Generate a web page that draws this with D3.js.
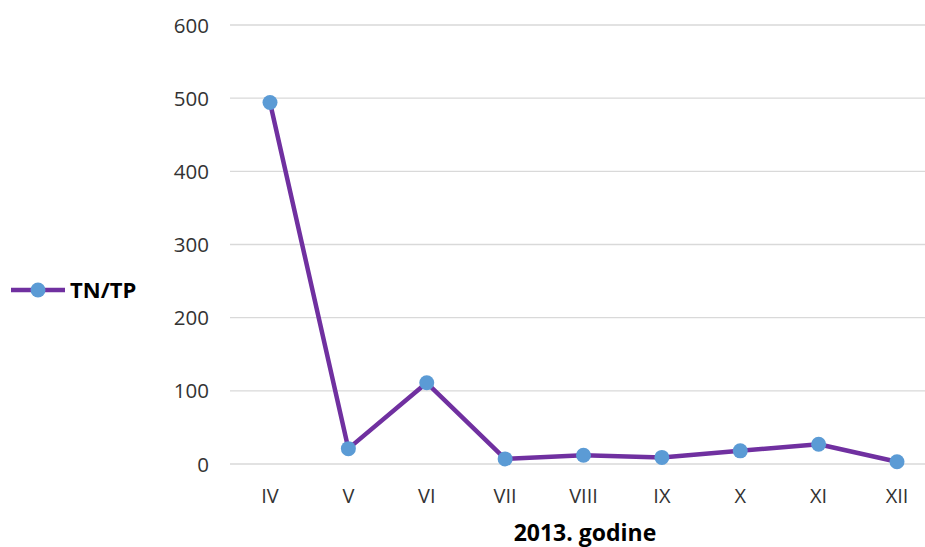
<!DOCTYPE html>
<html>
<head>
<meta charset="utf-8">
<script src="https://cdn.jsdelivr.net/npm/d3@7"></script>
<style>
  body { margin: 0; background: #fff; }
  svg { display: block; font-family: "Open Sans", "Liberation Sans", sans-serif; }
</style>
</head>
<body>
<svg id="chart" width="925" height="547"></svg>
<script>
// podaci
let mjeseci = ["IV", "V", "VI", "VII", "VIII", "IX", "X", "XI", "XII"];
let tntp = [494, 21, 111, 7, 12, 9, 18, 27, 3];
let yTicks = [0, 100, 200, 300, 400, 500, 600];

let svg = d3.select("#chart");

let x = d3.scalePoint()
    .domain(mjeseci)
    .range([270, 897]);

let y = d3.scaleLinear()
    .domain([0, 600])
    .range([464, 25]);

// mreza
svg.append("g")
    .selectAll("line")
    .data(yTicks)
    .enter()
    .append("line")
    .attr("x1", 230)
    .attr("x2", 925)
    .attr("y1", d => y(d))
    .attr("y2", d => y(d))
    .attr("stroke", "#d9d9d9")
    .attr("stroke-width", 1.3);

// y oznake
svg.append("g")
    .selectAll("text")
    .data(yTicks)
    .enter()
    .append("text")
    .attr("x", 209)
    .attr("y", d => y(d) + 7.5)
    .attr("text-anchor", "end")
    .attr("font-size", 20.5)
    .attr("fill", "#333")
    .text(d => d);

// x oznake
svg.append("g")
    .selectAll("text")
    .data(mjeseci)
    .enter()
    .append("text")
    .attr("x", d => x(d))
    .attr("y", 503)
    .attr("text-anchor", "middle")
    .attr("font-size", 20)
    .attr("fill", "#333")
    .text(d => d);

svg.append("text")
    .attr("x", 585)
    .attr("y", 541)
    .attr("text-anchor", "middle")
    .attr("font-size", 23)
    .attr("font-weight", "bold")
    .attr("fill", "#000")
    .text("2013. godine");

// linija
let linija = d3.line()
    .x((d, i) => x(mjeseci[i]))
    .y(d => y(d));

svg.append("path")
    .datum(tntp)
    .attr("d", linija)
    .attr("fill", "none")
    .attr("stroke", "#7030a0")
    .attr("stroke-width", 4.5)
    .attr("stroke-linejoin", "round");

svg.append("g")
    .selectAll("circle")
    .data(tntp)
    .enter()
    .append("circle")
    .attr("cx", (d, i) => x(mjeseci[i]))
    .attr("cy", d => y(d))
    .attr("r", 7.5)
    .attr("fill", "#5b9bd5");

// legenda
let leg = svg.append("g");
leg.append("line")
    .attr("x1", 11).attr("x2", 65)
    .attr("y1", 290).attr("y2", 290)
    .attr("stroke", "#7030a0")
    .attr("stroke-width", 4.5);
leg.append("circle")
    .attr("cx", 38).attr("cy", 290)
    .attr("r", 7.5)
    .attr("fill", "#5b9bd5");
leg.append("text")
    .attr("x", 70)
    .attr("y", 298)
    .attr("font-size", 22)
    .attr("font-weight", "bold")
    .attr("fill", "#000")
    .text("TN/TP");
</script>
</body>
</html>
